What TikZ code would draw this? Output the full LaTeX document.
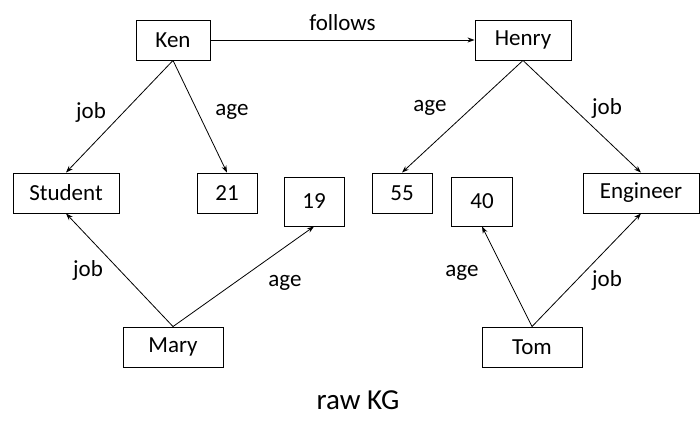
\documentclass[tikz,border=0pt]{standalone}
\usepackage{fontspec}
\setmainfont{Carlito}
\usetikzlibrary{arrows.meta}
\begin{document}
\begin{tikzpicture}[x=1pt,y=-1pt,
  entity/.style={draw, line width=0.9pt, inner sep=0pt, minimum height=40pt,
    font=\fontsize{23}{27}\selectfont},
  rel/.style={line width=0.8pt, -{Stealth[length=7pt,width=5pt]}},
  lbl/.style={inner sep=0pt, font=\fontsize{23}{27}\selectfont}]
\useasboundingbox (0,0) rectangle (700,420);

% entities
\node[entity, minimum width=74pt]  (ken)      at (173,40)    {Ken};
\node[entity, minimum width=96pt]  (henry)    at (523,40)    {Henry};
\node[entity, minimum width=106pt] (student)  at (66,193)    {Student};
\node[entity, minimum width=60pt]  (a21)      at (227,193)   {21};
\node[entity, minimum width=60pt, minimum height=49pt] (a19) at (314,201.5) {19};
\node[entity, minimum width=60pt]  (a55)      at (402,193)   {55};
\node[entity, minimum width=61pt, minimum height=49pt] (a40) at (482,201.5) {40};
\node[entity, minimum width=116pt] (engineer) at (641,193)   {Engineer};
\node[entity, minimum width=100pt] (mary)     at (173,347)   {Mary};
\node[entity, minimum width=100pt] (tom)      at (532,347)   {Tom};

% relations
\draw[rel] (ken.east) -- node[lbl, above=9pt] {follows} (henry.west);
\draw[rel] (ken.south) -- (student.north);
\draw[rel] (ken.south) -- (a21.north);
\draw[rel] (henry.south) -- (a55.north);
\draw[rel] (henry.south) -- (engineer.north);
\draw[rel] (mary.north) -- (student.south);
\draw[rel] (mary.north) -- (a19.south);
\draw[rel] (tom.north) -- (a40.south);
\draw[rel] (tom.north) -- (engineer.south);

% relation labels
\node[lbl] (l1) at (91,112)  {job};
\node[lbl] (l2) at (232,112) {age};
\node[lbl] (l3) at (430,108) {age};
\node[lbl] (l4) at (607,108) {job};
\node[lbl] (l5) at (88,270)  {job};
\node[lbl] (l6) at (285,283) {age};
\node[lbl] (l7) at (462,273) {age};
\node[lbl] (l8) at (607,280) {job};

% caption
\node[lbl, font=\fontsize{29}{34}\selectfont] (cap) at (358,400) {raw KG};
\end{tikzpicture}
\end{document}
